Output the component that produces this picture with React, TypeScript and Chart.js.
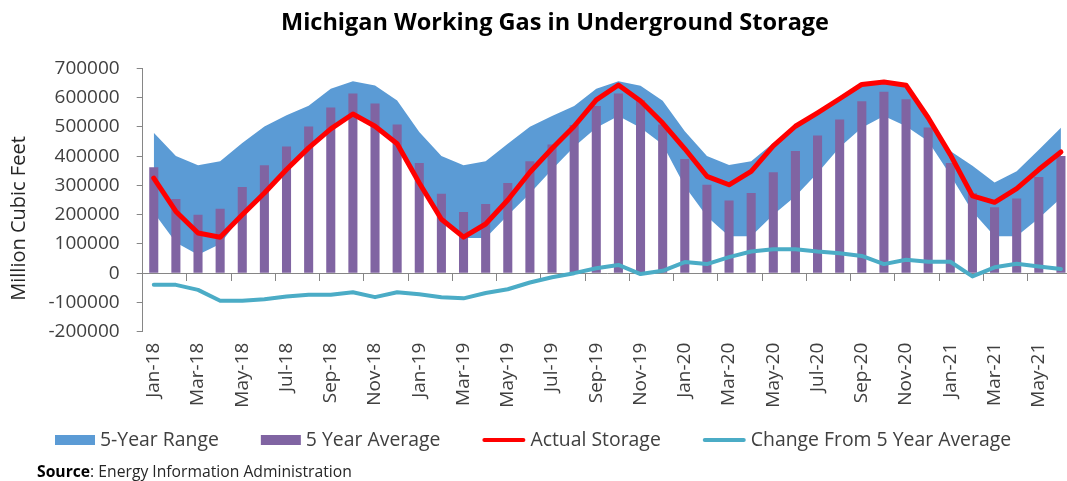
import React, { useEffect, useRef } from "react";
import { Chart, registerables } from "chart.js";

Chart.register(...registerables);

const months = [
  "Jan-18", "Feb-18", "Mar-18", "Apr-18", "May-18", "Jun-18", "Jul-18", "Aug-18", "Sep-18", "Oct-18", "Nov-18", "Dec-18",
  "Jan-19", "Feb-19", "Mar-19", "Apr-19", "May-19", "Jun-19", "Jul-19", "Aug-19", "Sep-19", "Oct-19", "Nov-19", "Dec-19",
  "Jan-20", "Feb-20", "Mar-20", "Apr-20", "May-20", "Jun-20", "Jul-20", "Aug-20", "Sep-20", "Oct-20", "Nov-20", "Dec-20",
  "Jan-21", "Feb-21", "Mar-21", "Apr-21", "May-21", "Jun-21",
];

const rangeLow = [
  207000, 105000, 63000, 100000, 200000, 274000, 354000, 428000, 493000, 544000, 502000, 442000,
  308000, 184000, 120000, 120000, 198000, 272000, 354000, 432000, 497000, 537000, 497000, 440000,
  297000, 194000, 126000, 126000, 200000, 263000, 342000, 430000, 497000, 537000, 502000, 451000,
  335000, 211000, 126000, 126000, 188000, 257000,
];

const rangeHigh = [
  480000, 400000, 369000, 382000, 445000, 501000, 540000, 572000, 630000, 656000, 641000, 590000,
  482000, 400000, 369000, 382000, 442000, 500000, 537000, 571000, 630000, 656000, 640000, 589000,
  485000, 400000, 370000, 382000, 445000, 502000, 548000, 596000, 645000, 656000, 642000, 531000,
  417000, 367000, 310000, 348000, 422000, 497000,
];

const fiveYearAverage = [
  362000, 253000, 200000, 220000, 294000, 369000, 433000, 501000, 566000, 614000, 580000, 508000,
  376000, 271000, 209000, 236000, 308000, 382000, 440000, 506000, 571000, 614000, 591000, 508000,
  390000, 302000, 248000, 274000, 345000, 417000, 470000, 525000, 587000, 620000, 594000, 498000,
  376000, 274000, 225000, 255000, 329000, 400000,
];

const actualStorage = [
  325000, 211000, 137000, 123000, 200000, 274000, 354000, 428000, 493000, 544000, 502000, 442000,
  308000, 184000, 123000, 168000, 250000, 345000, 426000, 502000, 592000, 643000, 588000, 513000,
  425000, 331000, 302000, 348000, 435000, 502000, 548000, 596000, 645000, 653000, 642000, 531000,
  405000, 264000, 242000, 289000, 354000, 414000,
];

const changeFromAverage = [
  -40000, -40000, -57000, -94000, -94000, -89000, -80000, -74000, -74000, -65000, -82000, -65000,
  -72000, -82000, -86000, -68000, -55000, -32000, -14000, 0, 17000, 28000, -3000, 8000,
  38000, 31000, 55000, 74000, 82000, 82000, 74000, 68000, 59000, 31000, 46000, 39000,
  39000, -11000, 20000, 32000, 23000, 14000,
];

const FONT = "'Open Sans', 'Noto Sans', sans-serif";
const TEXT = "#404040";
const AXIS = "#868686";

const customLegend = {
  id: "customLegend",
  afterDraw(chart: any) {
    const ctx = chart.ctx;
    ctx.save();
    ctx.font = `19.4px ${FONT}`;
    ctx.textBaseline = "middle";
    ctx.textAlign = "left";
    let x = 55;
    const y = 440;
    chart.data.datasets.forEach((ds: any) => {
      if (!ds.label) return;
      const isBox = ds.type === "bar" || !!ds.fill;
      let w = 40;
      if (isBox) {
        ctx.fillStyle = ds.backgroundColor;
        ctx.fillRect(x, y - 5, 40, 10);
      } else {
        w = 43;
        ctx.strokeStyle = ds.borderColor;
        ctx.lineWidth = 4;
        ctx.lineCap = "round";
        ctx.beginPath();
        ctx.moveTo(x + 2, y);
        ctx.lineTo(x + w - 2, y);
        ctx.stroke();
      }
      x += w + 5;
      ctx.fillStyle = TEXT;
      ctx.fillText(ds.label, x, y);
      x += ctx.measureText(ds.label).width + 42;
    });
    ctx.restore();
  },
};

const extraText = {
  id: "extraText",
  afterDraw(chart: any) {
    const ctx = chart.ctx;
    ctx.save();
    ctx.translate(19.5, 218.5);
    ctx.rotate(-Math.PI / 2);
    ctx.font = `20px ${FONT}`;
    ctx.fillStyle = "#262626";
    ctx.textAlign = "center";
    ctx.textBaseline = "middle";
    ctx.fillText("Million Cubic Feet", 0, 0);
    ctx.restore();

    ctx.save();
    ctx.textBaseline = "middle";
    ctx.textAlign = "left";
    ctx.fillStyle = "#000";
    ctx.font = `bold 15.7px ${FONT}`;
    const bold = "Source";
    ctx.fillText(bold, 37, 473);
    const bw = ctx.measureText(bold).width;
    ctx.font = `15.7px ${FONT}`;
    ctx.fillStyle = "#262626";
    ctx.fillText(": Energy Information Administration", 37 + bw, 473);
    ctx.restore();
  },
};

export default function App() {
  const ref = useRef<HTMLCanvasElement | null>(null);

  useEffect(() => {
    if (!ref.current) return;
    const chart = new Chart(ref.current, {
      type: "bar",
      data: {
        labels: months,
        datasets: [
          {
            type: "line",
            label: "",
            data: rangeLow,
            borderWidth: 0,
            pointRadius: 0,
            fill: false,
            order: 10,
          },
          {
            type: "line",
            label: "5-Year Range",
            data: rangeHigh,
            borderWidth: 0,
            pointRadius: 0,
            fill: "-1",
            backgroundColor: "#5B9BD5",
            borderColor: "#5B9BD5",
            order: 9,
          },
          {
            type: "bar",
            label: "5 Year Average",
            data: fiveYearAverage,
            backgroundColor: "#8064A2",
            borderWidth: 0,
            barPercentage: 0.41,
            categoryPercentage: 1,
            order: 3,
          },
          {
            type: "line",
            label: "Actual Storage",
            data: actualStorage,
            borderColor: "#FF0000",
            backgroundColor: "#FF0000",
            borderWidth: 5,
            pointRadius: 0,
            fill: false,
            borderJoinStyle: "round",
            borderCapStyle: "round",
            order: 1,
          },
          {
            type: "line",
            label: "Change From 5 Year Average",
            data: changeFromAverage,
            borderColor: "#4BACC6",
            backgroundColor: "#4BACC6",
            borderWidth: 4,
            pointRadius: 0,
            fill: false,
            borderJoinStyle: "round",
            borderCapStyle: "round",
            order: 2,
          },
        ],
      },
      options: {
        responsive: false,
        animation: false,
        devicePixelRatio: 1,
        layout: { padding: { left: 38, right: 0, top: 0, bottom: 0 } },
        font: { family: FONT },
        plugins: {
          legend: { display: false },
          tooltip: { enabled: false },
          title: {
            display: true,
            text: "Michigan Working Gas in Underground Storage",
            color: "#000",
            font: { family: FONT, size: 23.5, weight: "bold" },
            padding: { top: 9, bottom: 31.1 },
          },
        },
        scales: {
          x: {
            type: "category",
            position: "bottom",
            offset: true,
            grid: { display: false, drawTicks: false },
            border: { display: false },
            ticks: {
              autoSkip: false,
              minRotation: 90,
              maxRotation: 90,
              padding: 11,
              color: TEXT,
              font: { family: FONT, size: 19 },
              callback: (_v: any, i: number) => (i % 2 === 0 ? months[i] : ""),
            },
            afterFit: (s: any) => {
              s.height = 149.3;
              s.paddingLeft = 0;
              s.paddingRight = 0;
            },
          },
          x2: {
            type: "category",
            position: { y: 0 },
            offset: true,
            grid: {
              display: true,
              drawOnChartArea: false,
              drawTicks: true,
              tickLength: 7,
              offset: true,
              color: (c: any) => (c.index % 2 === 0 ? AXIS : "rgba(0,0,0,0)"),
            },
            border: { display: true, color: AXIS, width: 1 },
            ticks: { display: false, autoSkip: false },
          },
          y: {
            type: "linear",
            position: "left",
            min: -200000,
            max: 700000,
            grid: {
              display: true,
              drawOnChartArea: false,
              drawTicks: true,
              tickLength: 6,
              color: AXIS,
            },
            border: { display: true, color: AXIS, width: 1 },
            ticks: {
              stepSize: 100000,
              padding: 17,
              color: TEXT,
              font: { family: FONT, size: 19 },
              callback: (v: any) => String(v),
            },
            afterFit: (s: any) => {
              s.width = 104.7;
            },
          },
        },
      } as any,
      plugins: [customLegend, extraText],
    });
    return () => chart.destroy();
  }, []);

  return (
    <div
      style={{
        position: "absolute",
        left: 0,
        top: 0,
        width: 1067,
        height: 481,
        overflow: "hidden",
        background: "#fff",
      }}
    >
      <canvas ref={ref} width={1072} height={481} style={{ display: "block" }} />
    </div>
  );
}
